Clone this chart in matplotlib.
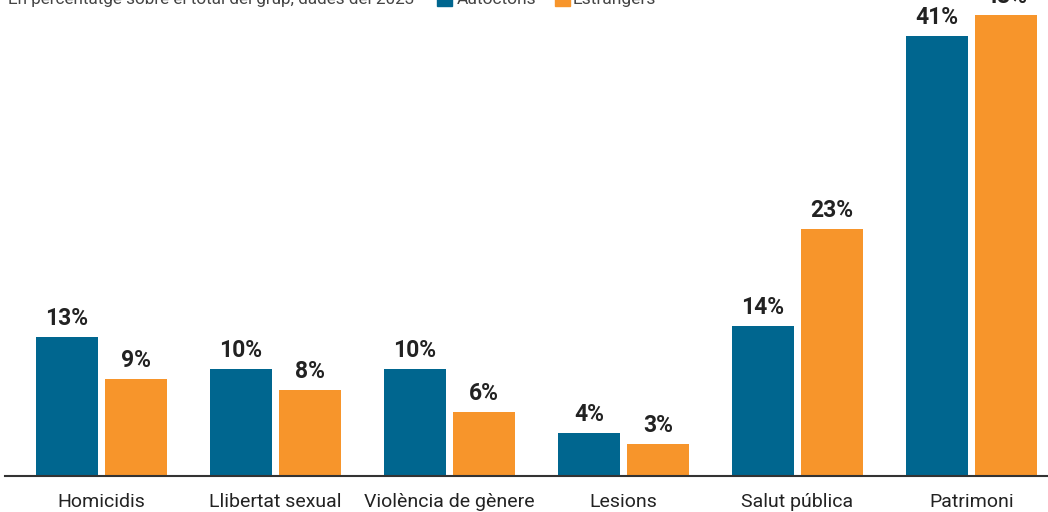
import numpy as np
import matplotlib.pyplot as plt

categories = ["Homicidis", "Llibertat sexual", "Violència de gènere", "Lesions", "Salut pública", "Patrimoni"]
autoctons = [13, 10, 10, 4, 14, 41]
estrangers = [9, 8, 6, 3, 23, 43]
series_names = ["Autòctons", "Estrangers"]
subtitle = "En percentatge sobre el total del grup, dades del 2023"

blau = "#00668f"
taronja = "#f7952b"
lletra = ["Roboto", "DejaVu Sans"]

W, H = 1048, 512
fig = plt.figure(figsize=(W / 100, H / 100), dpi=100)
# eixos en píxels: línia base a y=476, comença a x=5
ax = fig.add_axes([5 / W, 36 / H, 1 - 5 / W, 476 / H])

pitch = 174.0
x = np.arange(len(categories))
amplada = 62 / pitch
despl = 34.5 / pitch

b1 = ax.bar(x - despl, autoctons, amplada, color=blau)
b2 = ax.bar(x + despl, estrangers, amplada, color=taronja)

for barres, vals in [(b1, autoctons), (b2, estrangers)]:
    for b, v in zip(barres, vals):
        ax.annotate(f"{v}%", (b.get_x() + b.get_width() / 2, v), xytext=(0, 5),
                    textcoords="offset points", ha="center", va="bottom",
                    fontsize=16.5, fontweight="bold", color="#222222", family=lletra)

ax.set_xlim((5 - 101.5) / pitch, (1048 - 101.5) / pitch)
ax.set_ylim(0, 476 / 10.73)
for s in ["top", "right", "left"]:
    ax.spines[s].set_visible(False)
ax.spines["bottom"].set_color("#333333")
ax.spines["bottom"].set_linewidth(1.5)
ax.set_yticks([])
ax.set_xticks(x)
ax.set_xticklabels(categories, fontsize=14, family=lletra, color="#222222")
ax.tick_params(axis="x", length=0, pad=12)

# subtítol i llegenda (retallats a dalt, com a l'original)
yb = 1 - 4 / H
fig.text(8 / W, yb, subtitle, fontsize=12.3, family=lletra, color="#444444", va="baseline")
for col, nom, xq, xt in [(blau, series_names[0], 437, 457), (taronja, series_names[1], 555, 573)]:
    fig.patches.append(plt.Rectangle((xq / W, 1 - 6 / H), 15 / W, 16 / H,
                                     transform=fig.transFigure, color=col, clip_on=False))
    fig.text(xt / W, yb, nom, fontsize=12.5, family=lletra, color="#444444", va="baseline")

fig.savefig("out.png", dpi=100)
